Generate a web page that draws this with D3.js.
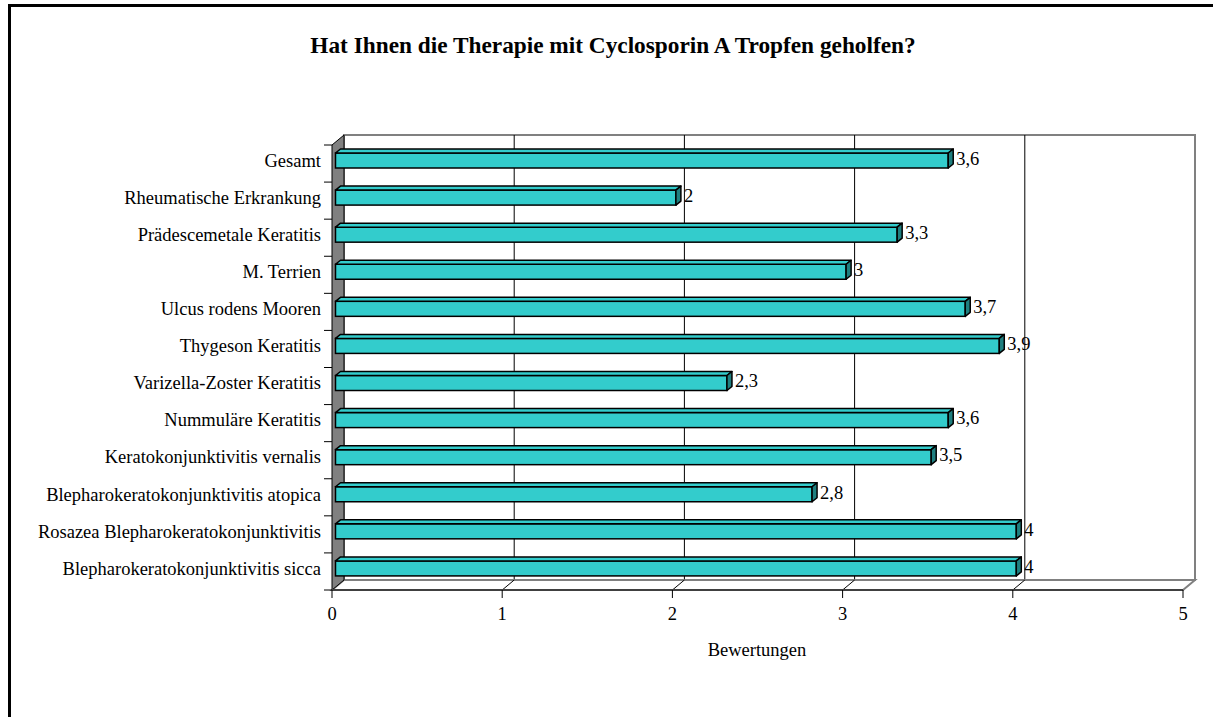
<!DOCTYPE html>
<html>
<head>
  <meta charset="utf-8">
  <title>Cyclosporin A Tropfen</title>
  <script src="https://cdn.jsdelivr.net/npm/d3@7"></script>
  <style>
    body{margin:0; background:#fff;}
    text{font-family: "Liberation Serif", "Times New Roman", serif; fill:#000;}
  </style>
</head>
<body>
<div id="container"></div>
<script>
  // data, top to bottom as in the chart
  var categories = [
    "Gesamt",
    "Rheumatische Erkrankung",
    "Prädescemetale Keratitis",
    "M. Terrien",
    "Ulcus rodens Mooren",
    "Thygeson Keratitis",
    "Varizella-Zoster Keratitis",
    "Nummuläre Keratitis",
    "Keratokonjunktivitis vernalis",
    "Blepharokeratokonjunktivitis atopica",
    "Rosazea Blepharokeratokonjunktivitis",
    "Blepharokeratokonjunktivitis sicca"
  ];
  var values = [3.6, 2, 3.3, 3, 3.7, 3.9, 2.3, 3.6, 3.5, 2.8, 4, 4];
  var xTicks = [0, 1, 2, 3, 4, 5];
  var title = "Hat Ihnen die Therapie mit Cyclosporin A Tropfen geholfen?";
  var xTitle = "Bewertungen";

  var W = 1213, H = 717;
  // front plane of the 3d box
  var pLeft = 332, pRight = 1183, pTop = 145, pBottom = 590;
  var dx = 12, dy = -10;     // depth of the box
  var bdx = 5, bdy = -4;     // depth of a bar
  var boff = 3.5;            // bars sit a bit inside the box

  var svg = d3.select("#container").append("svg")
      .attr("width", W).attr("height", H);

  var xScale = d3.scaleLinear().domain([0, 5]).range([pLeft, pRight]);
  var yScale = d3.scaleBand().domain(categories).range([pTop, pBottom]);

  // outer frame
  svg.append("rect")
    .attr("x", 9.5).attr("y", 5.5)
    .attr("width", W + 20).attr("height", H + 20)
    .attr("fill", "none").attr("stroke", "#000").attr("stroke-width", 3);

  svg.append("text")
    .attr("x", 613).attr("y", 48)
    .attr("text-anchor", "middle").attr("dominant-baseline", "middle")
    .style("font-size", "23.3px").style("font-weight", "bold")
    .text(title);

  // back wall
  svg.append("rect")
    .attr("x", pLeft + dx).attr("y", pTop + dy)
    .attr("width", pRight - pLeft).attr("height", pBottom - pTop)
    .attr("fill", "#fff").attr("stroke", "#808080").attr("stroke-width", 2);

  // gridlines on back wall
  svg.selectAll(".grid").data(xTicks.slice(1, -1)).enter().append("line")
    .attr("class", "grid")
    .attr("x1", d => xScale(d) + dx).attr("x2", d => xScale(d) + dx)
    .attr("y1", pTop + dy).attr("y2", pBottom + dy)
    .attr("stroke", "#000").attr("stroke-width", 1);

  // floor
  svg.append("path")
    .attr("d", "M" + pLeft + "," + pBottom + "L" + (pLeft + dx) + "," + (pBottom + dy) +
      "L" + (pRight + dx) + "," + (pBottom + dy) + "L" + pRight + "," + pBottom + "Z")
    .attr("fill", "#fff").attr("stroke", "#808080").attr("stroke-width", 2);

  svg.selectAll(".floorline").data(xTicks.slice(1, -1)).enter().append("line")
    .attr("x1", d => xScale(d)).attr("y1", pBottom)
    .attr("x2", d => xScale(d) + dx).attr("y2", pBottom + dy)
    .attr("stroke", "#000").attr("stroke-width", 1);

  // left wall
  svg.append("path")
    .attr("d", "M" + pLeft + "," + pTop + "L" + (pLeft + dx) + "," + (pTop + dy) +
      "L" + (pLeft + dx) + "," + (pBottom + dy) + "L" + pLeft + "," + pBottom + "Z")
    .attr("fill", "#808080").attr("stroke", "#000").attr("stroke-width", 1);

  // bars
  var bh = 15, bt = 8;
  var bars = svg.selectAll(".bar").data(values).enter().append("g").attr("class", "bar");
  function x0() { return xScale(0) + boff; }
  function x1(d) { return xScale(d) + boff; }
  function yt(d, i) { return yScale(categories[i]) + bt; }

  bars.append("rect")
    .attr("x", x0())
    .attr("y", (d, i) => yt(d, i))
    .attr("width", d => x1(d) - x0())
    .attr("height", bh)
    .attr("fill", "#33cccc").attr("stroke", "#000").attr("stroke-width", 1.5);

  bars.append("path")
    .attr("d", function(d, i){
      var y = yt(d, i);
      return "M" + x0() + "," + y + "L" + (x0() + bdx) + "," + (y + bdy) +
        "L" + (x1(d) + bdx) + "," + (y + bdy) + "L" + x1(d) + "," + y + "Z";
    })
    .attr("fill", "#33cccc").attr("stroke", "#000").attr("stroke-width", 1.5)
    .attr("stroke-linejoin", "round");

  bars.append("path")
    .attr("d", function(d, i){
      var y = yt(d, i);
      return "M" + x1(d) + "," + y + "L" + (x1(d) + bdx) + "," + (y + bdy) +
        "L" + (x1(d) + bdx) + "," + (y + bh + bdy) + "L" + x1(d) + "," + (y + bh) + "Z";
    })
    .attr("fill", "#1f7f7f").attr("stroke", "#000").attr("stroke-width", 1.5)
    .attr("stroke-linejoin", "round");

  bars.append("text")
    .attr("x", d => x1(d) + bdx + 3)
    .attr("y", (d, i) => yt(d, i) + bh / 2)
    .attr("dominant-baseline", "middle")
    .style("font-size", "18.5px")
    .text(d => String(d).replace(".", ","));

  // x axis
  svg.append("line")
    .attr("x1", pLeft).attr("x2", pRight).attr("y1", pBottom).attr("y2", pBottom)
    .attr("stroke", "#404040").attr("stroke-width", 2);
  svg.selectAll(".xtick").data(xTicks).enter().append("line")
    .attr("x1", d => xScale(d)).attr("x2", d => xScale(d))
    .attr("y1", pBottom).attr("y2", pBottom + 8)
    .attr("stroke", "#000");
  svg.selectAll(".xlab").data(xTicks).enter().append("text")
    .attr("x", d => xScale(d)).attr("y", pBottom + 26)
    .attr("text-anchor", "middle").attr("dominant-baseline", "middle")
    .style("font-size", "18.5px")
    .text(d => d);

  svg.append("text")
    .attr("x", 757).attr("y", 652)
    .attr("text-anchor", "middle").attr("dominant-baseline", "middle")
    .style("font-size", "18.5px")
    .text(xTitle);

  // y axis ticks and labels
  var bounds = categories.map(c => yScale(c)).concat([pBottom]);
  svg.selectAll(".ytick").data(bounds).enter().append("line")
    .attr("x1", pLeft - 8).attr("x2", pLeft)
    .attr("y1", d => d).attr("y2", d => d)
    .attr("stroke", "#000");
  svg.selectAll(".ylab").data(categories).enter().append("text")
    .attr("x", pLeft - 11)
    .attr("y", d => yScale(d) + yScale.bandwidth() / 2 - 1)
    .attr("text-anchor", "end").attr("dominant-baseline", "middle")
    .style("font-size", "18.5px")
    .text(d => d);
</script>
</body>
</html>
